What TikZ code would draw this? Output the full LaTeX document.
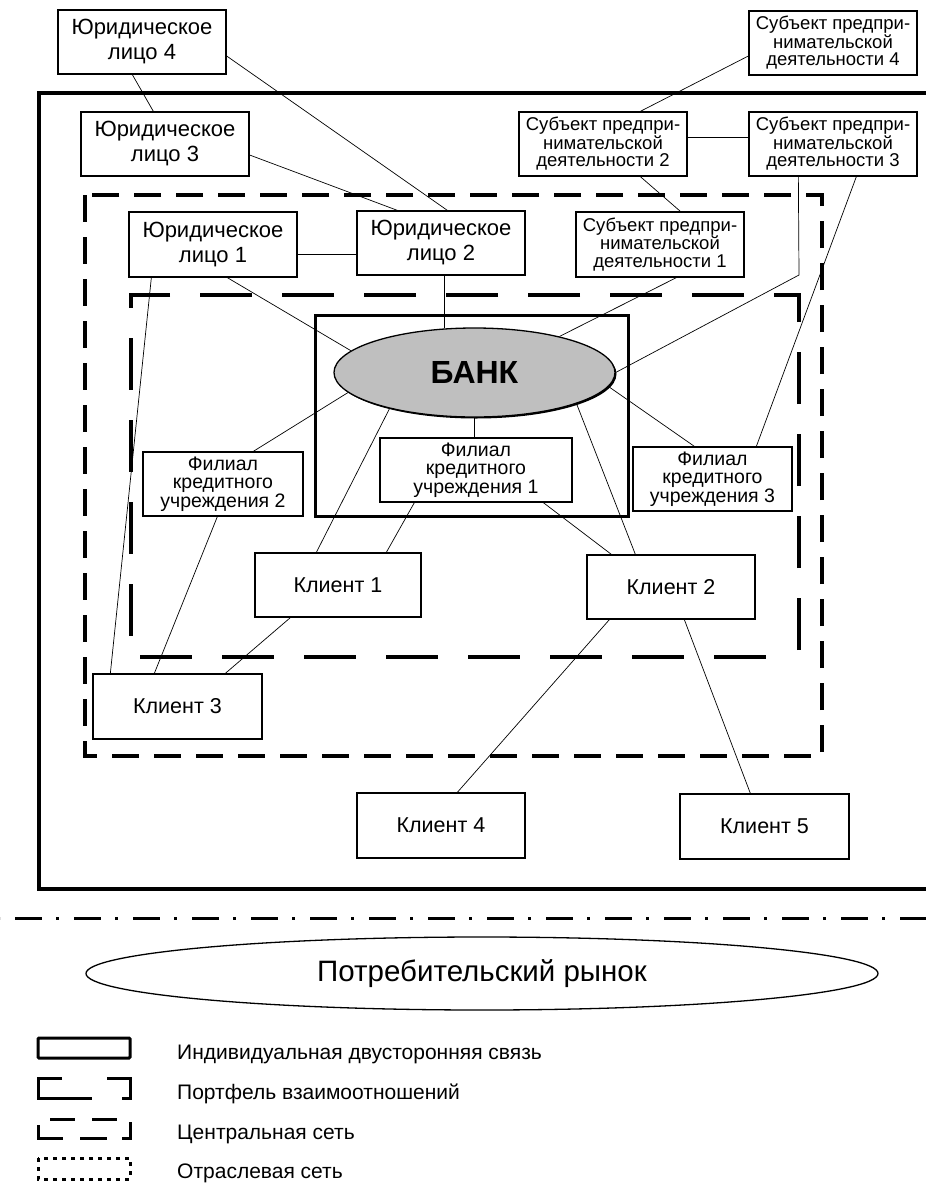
\documentclass[tikz,border=0pt]{standalone}
\usepackage{fontspec}
\setmainfont{Liberation Sans}
\usetikzlibrary{shapes.geometric,shadows,calc}
\begin{document}
\begin{tikzpicture}[x=1pt,y=-1pt,
  box/.style={draw,fill=white,line width=1.3pt,minimum width=168pt,minimum height=64pt,inner sep=0pt,align=center,font=\fontsize{22}{25}\selectfont},
  sbox/.style={box,font=\fontsize{18.5}{17.5}\selectfont},
  fbox/.style={box,font=\fontsize{19.5}{18.5}\selectfont},
  kbox/.style={box,font=\fontsize{21.5}{23}\selectfont},
  conn/.style={line width=0.7pt},
  midnet/.style={line width=3.2pt,dash pattern=on 27pt off 15pt},
  innet/.style={line width=3.2pt,dash pattern=on 52pt off 30pt},
  thickframe/.style={line width=3.2pt},
  leg/.style={line width=3pt},
  legtext/.style={anchor=base west,inner sep=0pt,font=\fontsize{21}{21}\selectfont},
]
\useasboundingbox (0,0) rectangle (926,1183);

% frames
\draw[thickframe] (926,93) -- (39,93) -- (39,889) -- (926,889);
\draw[midnet] (85,195) rectangle (822,756);
\draw[innet] (799,650) -- (799,295) -- (131,295) -- (131,657) -- (773,657);
\draw[line width=3pt,dash pattern=on 27pt off 14pt on 3pt off 15pt,dash phase=44pt] (0,918) -- (926,918);

% bank
\node[draw,line width=3pt,minimum width=313pt,minimum height=201pt,inner sep=0pt] (bankbox) at (471.5,415.5) {};
\node[ellipse,draw,line width=1.3pt,fill=black!25,minimum width=281pt,minimum height=89pt,inner sep=0pt,
      drop shadow={shadow xshift=1.5pt,shadow yshift=-1.5pt,fill=black,opacity=1},
      font=\bfseries\fontsize{32}{32}\selectfont] (bank) at (474.5,372.5) {БАНК};

% nodes
\node[box] (ju4) at (142,42) {Юридическое\\лицо 4};
\node[box] (ju3) at (165,144) {Юридическое\\лицо 3};
\node[box,minimum height=65pt] (ju1) at (213,244.5) {Юридическое\\лицо 1};
\node[box] (ju2) at (441,243) {Юридическое\\лицо 2};
\node[sbox] (s4) at (833,43) {Субъект предпри-\\нимательской\\деятельности 4};
\node[sbox] (s2) at (603,144) {Субъект предпри-\\нимательской\\деятельности 2};
\node[sbox] (s3) at (833,144) {Субъект предпри-\\нимательской\\деятельности 3};
\node[sbox,minimum height=65pt] (s1) at (660,244.5) {Субъект предпри-\\нимательской\\деятельности 1};
\node[fbox,minimum width=160pt] (f2) at (223,484) {Филиал\\кредитного\\учреждения 2};
\node[fbox,minimum width=192pt] (f1) at (476,470) {Филиал\\кредитного\\учреждения 1};
\node[fbox,minimum width=159pt] (f3) at (712.5,479) {Филиал\\кредитного\\учреждения 3};
\node[kbox,minimum width=166pt] (k1) at (338,585) {Клиент 1};
\node[kbox] (k2) at (671,587) {Клиент 2};
\node[kbox,minimum width=169pt,minimum height=65pt] (k3) at (177.5,706.5) {Клиент 3};
\node[kbox,minimum height=65pt] (k4) at (441,825.5) {Клиент 4};
\node[kbox,minimum width=169pt,minimum height=65pt] (k5) at (764.5,826.5) {Клиент 5};
\coordinate (bend) at (799,275);

% connectors
\draw[conn] ([xshift=75pt]ju4.south west) -- ([xshift=73pt]ju3.north west);
\draw[conn] ([yshift=-14pt]ju4.east) -- ([xshift=91pt]ju2.north west);
\draw[conn] ([yshift=-11pt]ju3.east) -- ([xshift=41pt]ju2.north west);
\draw[conn] ([yshift=-10pt]ju1.east) -- ([yshift=-10pt]ju1.east -| ju2.west);
\draw[conn] ([xshift=99pt]ju1.south west) -- (bank.170);
\draw[conn] ([xshift=23pt]ju1.south west) -- ([xshift=18pt]k3.north west);
\draw[conn] (bank.124 |- ju2.south) -- (bank.124);
\draw[conn] ([yshift=-13pt]s4.west) -- ([xshift=122pt]s2.north west);
\draw[conn] ([yshift=7pt]s2.east) -- ([yshift=7pt]s2.east -| s3.west);
\draw[conn] ([xshift=122pt]s2.south west) -- ([xshift=105pt]s1.north west);
\draw[conn] ([xshift=101pt]s1.south west) -- (bank.23);
\draw[conn] ([xshift=50pt]s3.south west) -- (bend) -- (bank.0);
\draw[conn] ([xshift=108pt]s3.south west) -- ([xshift=124pt]f3.north west);
\draw[conn] (bank.-171) -- ([xshift=111pt]f2.north west);
\draw[conn] (bank.-6) -- ([xshift=62pt]f3.north west);
\draw[conn] (bank.south) -- (bank.south |- f1.north);
\draw[conn] (bank.-157) -- ([xshift=62pt]k1.north west);
\draw[conn] (bank.-17) -- ([xshift=49pt]k2.north west);
\draw[conn] ([xshift=35pt]f1.south west) -- ([xshift=132pt]k1.north west);
\draw[conn] ([xshift=164pt]f1.south west) -- ([xshift=25pt]k2.north west);
\draw[conn] ([xshift=75pt]f2.south west) -- ([xshift=62pt]k3.north west);
\draw[conn] ([xshift=36pt]k1.south west) -- ([xshift=133pt]k3.north west);
\draw[conn] ([xshift=23pt]k2.south west) -- ([xshift=101pt]k4.north west);
\draw[conn] ([xshift=98pt]k2.south west) -- ([xshift=71pt]k5.north west);

% market
\node[ellipse,draw,line width=1.3pt,minimum width=792pt,minimum height=73pt,inner sep=0pt,font=\fontsize{29.5}{29.5}\selectfont] (market) at (482,973.5) {Потребительский рынок};

% legend
\draw[leg,rounded corners=1pt] (38,1038) rectangle (130,1058);
\draw[leg] (62,1078) -- (38,1078) -- (38,1098) -- (92,1098);
\draw[leg] (107,1078) -- (130,1078) -- (130,1098) -- (122,1098);
\draw[leg] (50,1119) -- (75,1119);
\draw[leg] (92,1119) -- (117,1119);
\draw[leg] (38,1125) -- (38,1138) -- (63,1138);
\draw[leg] (80,1138) -- (107,1138);
\draw[leg] (130,1122) -- (130,1138) -- (122,1138);
\draw[leg,dash pattern=on 4pt off 5pt] (38,1158) rectangle (130,1179);
\node[legtext] (t1) at (177,1059) {Индивидуальная двусторонняя связь};
\node[legtext] (t2) at (177,1099) {Портфель взаимоотношений};
\node[legtext] (t3) at (177,1139) {Центральная сеть};
\node[legtext] (t4) at (177,1178) {Отраслевая сеть};
\end{tikzpicture}
\end{document}
